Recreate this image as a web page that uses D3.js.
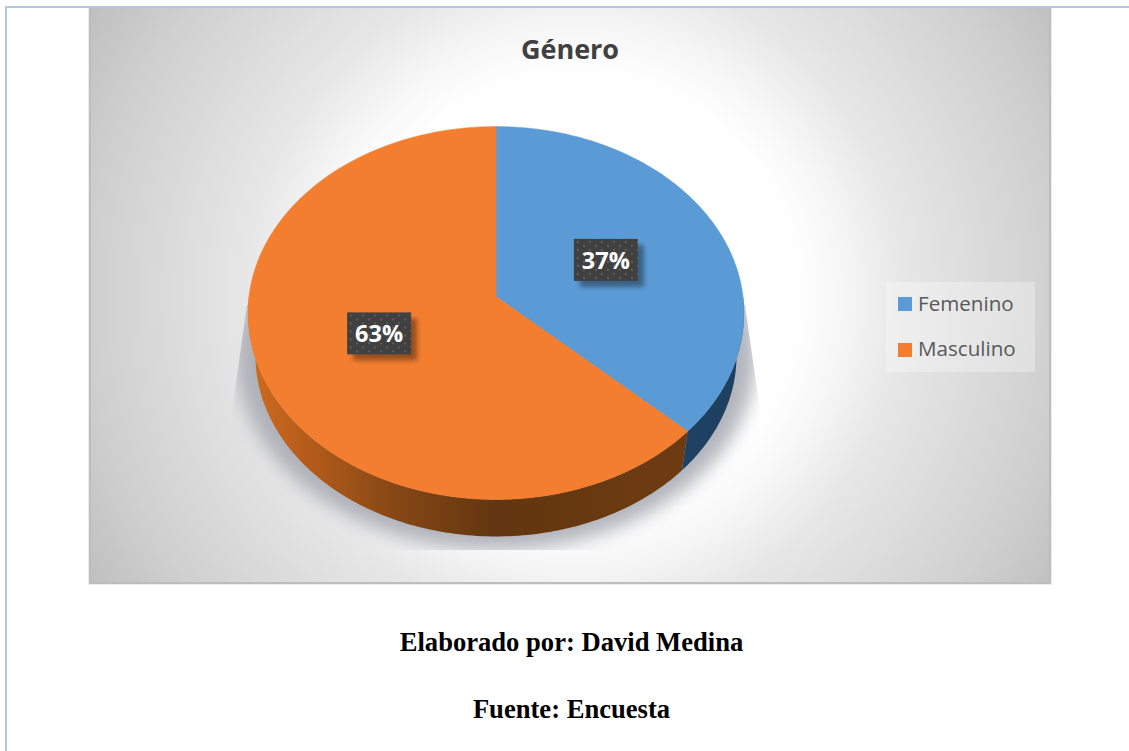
<!DOCTYPE html>
<html lang="es">
<head>
<meta charset="utf-8">
<title>Género</title>
<script src="https://cdn.jsdelivr.net/npm/d3@7/dist/d3.min.js"></script>
<style>
html,body{margin:0;padding:0;background:#fff;}
svg{display:block;}
</style>
</head>
<body>
<svg id="chart" width="1129" height="751"></svg>
<script>
// Survey result
const categories = ["Femenino", "Masculino"];
const percentages = [37, 63];
const sliceColors = ["#5b9bd5", "#f47e30"];
const chartTitle = "Género";
const footerLines = ["Elaborado por: David Medina", "Fuente: Encuesta"];

const svg = d3.select("#chart");
const defs = svg.append("defs");
const W = 1129, H = 751;
const panel = {x: 89, y: 8, w: 962, h: 576};

// Tilted-disc projection: the back of the disc is foreshortened relative to the front
const disc = {cx: 496, apexY: 296.5, rx: 247, ry: 185, persp: 0.0885,
              lowerScale: 0.97, lowerApexY: 339.6};
function project(theta, f = 1) {
  const u = Math.sin(theta) * f, v = Math.cos(theta) * f;
  const d = 1 + disc.persp * v;
  return [disc.cx + disc.rx * u / d, disc.apexY - disc.ry * v / d];
}
// Underside of the disc, drawn slightly smaller because it sits further from the eye
function projectLower(theta, s = disc.lowerScale, apexY = disc.lowerApexY) {
  const [x, y] = project(theta);
  return [disc.cx + (x - disc.cx) * s, apexY + (y - disc.apexY) * s];
}
const sampleArc = (a0, a1) => {
  const n = Math.max(2, Math.ceil(Math.abs(a1 - a0) / (Math.PI / 180)));
  return d3.range(n + 1).map(i => a0 + (a1 - a0) * i / n);
};
const line = d3.line();

// Panel background
const bg = defs.append("radialGradient").attr("id", "panelBg")
  .attr("gradientUnits", "userSpaceOnUse")
  .attr("cx", 575).attr("cy", 296).attr("r", 565);
[[0.39, "#ffffff"], [0.47, "#f7f7f7"], [0.58, "#e7e7e7"], [0.85, "#d0d0d0"], [1, "#bfbfbf"]]
  .forEach(([o, c]) => bg.append("stop").attr("offset", o).attr("stop-color", c));

svg.append("rect").attr("x", panel.x - 1).attr("y", panel.y).attr("width", panel.w + 2).attr("height", panel.h + 1).attr("fill", "#ededed");
svg.append("rect").attr("x", panel.x).attr("y", panel.y).attr("width", panel.w).attr("height", panel.h).attr("fill", "#bdbdbd");
svg.append("rect").attr("x", panel.x + 2).attr("y", panel.y).attr("width", panel.w - 4).attr("height", panel.h - 2).attr("fill", "url(#panelBg)");

// Page frame
svg.append("rect").attr("x", 5).attr("y", 6).attr("width", W - 5).attr("height", 2).attr("fill", "#b4c6e7");
svg.append("rect").attr("x", 5).attr("y", 6).attr("width", 2).attr("height", H - 6).attr("fill", "#b4c6e7");

// Title
svg.append("text").attr("x", 570).attr("y", 59).attr("text-anchor", "middle")
  .attr("font-family", "'Open Sans', sans-serif").attr("font-weight", 700).attr("font-size", 27)
  .attr("fill", "#404040").text(chartTitle);

// Soft shadow under the disc, cut off by the plane it falls on
const blur = defs.append("filter").attr("id", "shadowBlur")
  .attr("x", "-20%").attr("y", "-20%").attr("width", "140%").attr("height", "140%");
blur.append("feGaussianBlur").attr("stdDeviation", 9);
const shadowClip = [[247, 305], [745, 305], [760, 410], [760, 550], [232, 550], [232, 410]];
defs.append("clipPath").attr("id", "shadowClip")
  .append("path").attr("d", line(shadowClip) + "Z");
const shadowPts = sampleArc(0, 2 * Math.PI).map(t => projectLower(t, 1.05, 337));
svg.append("g").attr("clip-path", "url(#shadowClip)")
  .append("path").attr("d", line(shadowPts) + "Z")
  .attr("fill", "#a6a8b0").attr("fill-opacity", 0.85).attr("filter", "url(#shadowBlur)");

// Slices from the survey percentages, clockwise from twelve o'clock
const pie = d3.pie().sort(null).value(d => d)(percentages);

// Side wall gradients
function sideGradient(id, stops) {
  const g = defs.append("linearGradient").attr("id", id).attr("gradientUnits", "userSpaceOnUse")
    .attr("x1", 248).attr("x2", 744).attr("y1", 0).attr("y2", 0);
  stops.forEach(([o, c]) => g.append("stop").attr("offset", o).attr("stop-color", c));
}
sideGradient("side0", [[0.8, "#1f4468"], [1, "#1d3f5f"]]);
sideGradient("side1", [[0, "#d06b20"], [0.12, "#b55c1b"], [0.3, "#854715"], [0.5, "#623610"], [0.8, "#6c3b11"], [1, "#6c3b11"]]);

// Only the front of the rim can be seen; the rest stays hidden behind the top face
const frontStart = Math.PI / 2, frontEnd = 1.5 * Math.PI;
pie.forEach((s, i) => {
  const a0 = Math.max(s.startAngle, frontStart), a1 = Math.min(s.endAngle, frontEnd);
  if (a1 <= a0) return;
  const arc = sampleArc(a0, a1);
  const upper = arc.map(t => project(t));
  const lower = arc.map(t => projectLower(t)).reverse();
  svg.append("path").attr("d", line(upper.concat(lower)) + "Z").attr("fill", `url(#side${i})`);
});

// Top faces
pie.forEach((s, i) => {
  const rim = sampleArc(s.startAngle, s.endAngle).map(t => project(t));
  const apex = project(0, 0);
  svg.append("path").attr("d", line([apex].concat(rim)) + "Z")
    .attr("fill", sliceColors[i]).attr("stroke", sliceColors[i]).attr("stroke-width", 0.5);
});

// Data labels: dark dotted tag with a drop shadow
const dots = defs.append("pattern").attr("id", "tagDots").attr("patternUnits", "userSpaceOnUse")
  .attr("width", 12).attr("height", 8);
dots.append("rect").attr("width", 12).attr("height", 8).attr("fill", "#404040");
dots.append("rect").attr("x", 1).attr("y", 1).attr("width", 2).attr("height", 2).attr("fill", "#5c5c5c");
dots.append("rect").attr("x", 7).attr("y", 5).attr("width", 2).attr("height", 2).attr("fill", "#5c5c5c");
const tagBlur = defs.append("filter").attr("id", "tagBlur")
  .attr("x", "-20%").attr("y", "-30%").attr("width", "140%").attr("height", "160%");
tagBlur.append("feGaussianBlur").attr("stdDeviation", 2.5);

const tagW = 64, tagH = 42;
pie.forEach(s => {
  const [x, y] = project((s.startAngle + s.endAngle) / 2, 0.5);
  const g = svg.append("g").attr("transform", `translate(${x - 1.5},${y - 0.5})`);
  g.append("rect").attr("x", -tagW / 2 + 6).attr("y", -tagH / 2 + 6).attr("width", tagW).attr("height", tagH)
    .attr("fill", "#000").attr("fill-opacity", 0.38).attr("filter", "url(#tagBlur)");
  g.append("rect").attr("x", -tagW / 2).attr("y", -tagH / 2).attr("width", tagW).attr("height", tagH)
    .attr("fill", "url(#tagDots)");
  g.append("text").attr("y", 9).attr("text-anchor", "middle")
    .attr("font-family", "'Open Sans', sans-serif").attr("font-weight", 700).attr("font-size", 23.5)
    .attr("fill", "#fff").text(s.data + "%");
});

// Legend
const legend = {x: 886, y: 282, w: 149, h: 90, swatch: 14, rowY: [304, 350]};
svg.append("rect").attr("x", legend.x).attr("y", legend.y).attr("width", legend.w).attr("height", legend.h)
  .attr("fill", "#fff").attr("fill-opacity", 0.3);
const colorScale = d3.scaleOrdinal().domain(categories).range(sliceColors);
categories.forEach((c, i) => {
  svg.append("rect").attr("x", 898).attr("y", legend.rowY[i] - legend.swatch / 2)
    .attr("width", legend.swatch).attr("height", legend.swatch).attr("fill", colorScale(c));
  svg.append("text").attr("x", 918).attr("y", legend.rowY[i] + 7 - i)
    .attr("font-family", "'Open Sans', sans-serif").attr("font-size", 20.6)
    .attr("fill", "#595959").text(c);
});

// Source lines
footerLines.forEach((t, i) => {
  svg.append("text").attr("x", 571.5).attr("y", 651 + i * 67).attr("text-anchor", "middle")
    .attr("font-family", "'Liberation Serif', serif").attr("font-weight", 700).attr("font-size", 26.6)
    .attr("fill", "#000").text(t);
});
</script>
</body>
</html>
